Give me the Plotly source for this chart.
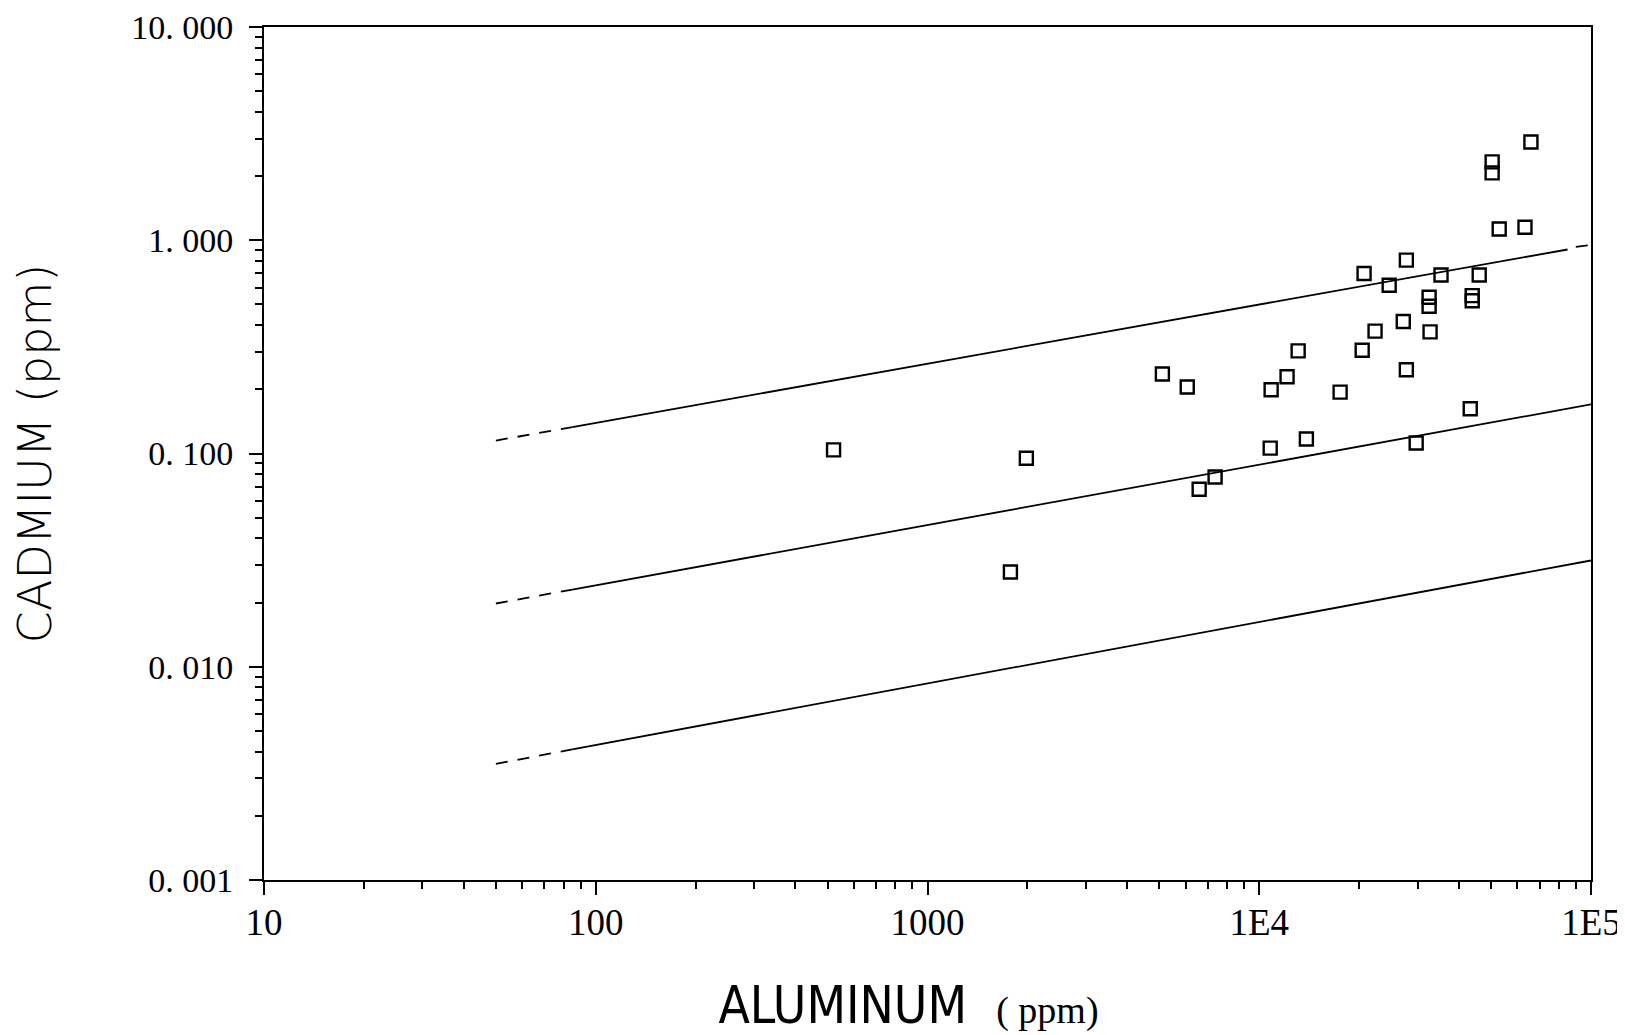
import plotly.graph_objects as go

# ---- data ----
aluminum = [521, 1986, 1778, 5105, 6067, 6590, 7360, 10790, 10860, 12130,
            13100, 13870, 17530, 20430, 20700, 22340, 24640, 27170, 27760, 27760,
            29720, 65900, 50350, 50350, 52880, 63240, 35310, 46030, 32510, 32510,
            43850, 43850, 32730, 43250]
cadmium = [0.104, 0.095, 0.0278, 0.236, 0.205, 0.068, 0.0776, 0.106, 0.199, 0.229,
           0.303, 0.117, 0.194, 0.305, 0.698, 0.375, 0.615, 0.416, 0.807, 0.247,
           0.112, 2.89, 2.33, 2.07, 1.13, 1.15, 0.687, 0.687, 0.54, 0.49,
           0.55, 0.52, 0.372, 0.162]

# regression line and bounds (dashed extrapolated part, solid part)
line_x_dash = [50, 85]
line_x_solid = [85, 100000]
upper_dash = [0.115, 0.133]
upper_x_solid = [85, 85000]
upper_solid = [0.133, 0.905]
upper_x_tail = [90000, 100000]
upper_tail = [0.93, 0.95]
middle_dash = [0.0198, 0.0230]
middle_solid = [0.0230, 0.170]
lower_dash = [0.0035, 0.0041]
lower_solid = [0.0041, 0.0315]

x_tickvals = [10, 100, 1000, 10000, 100000]
x_ticktext = ["10", "100", "1000", "1E4", "1E5"]
y_tickvals = [0.001, 0.01, 0.1, 1, 10]
y_ticktext = ["0. 001", "0. 010", "0. 100", "1. 000", "10. 000"]

x_minor = [m * 10 ** k for k in range(1, 5) for m in range(2, 10)]
y_minor = [m * 10.0 ** k for k in range(-3, 1) for m in range(2, 10)]

fig = go.Figure()

line_style_solid = dict(color="black", width=1.8)
line_style_dash = dict(color="black", width=1.8, dash="12px,10px")

for xd, yd in [(line_x_dash, upper_dash), (line_x_dash, middle_dash), (line_x_dash, lower_dash),
               (upper_x_tail, upper_tail)]:
    fig.add_trace(go.Scatter(x=xd, y=yd, mode="lines", line=line_style_dash,
                             showlegend=False, hoverinfo="skip"))
for xs, ys in [(upper_x_solid, upper_solid), (line_x_solid, middle_solid), (line_x_solid, lower_solid)]:
    fig.add_trace(go.Scatter(x=xs, y=ys, mode="lines", line=line_style_solid,
                             showlegend=False, hoverinfo="skip"))

fig.add_trace(go.Scatter(
    x=aluminum, y=cadmium, mode="markers",
    marker=dict(symbol="square-open", size=13, color="black", line=dict(width=2.4, color="black")),
    showlegend=False,
))

# the page body keeps its default 8px margin, so the figure is 8px smaller than the window
fig.update_layout(
    width=1617, height=1027,
    margin=dict(l=256, r=34, t=19, b=155),
    paper_bgcolor="white", plot_bgcolor="white",
    font=dict(family="Liberation Serif", color="black"),
)

fig.update_xaxes(
    type="log", range=[1, 5], automargin=False,
    tickmode="array", tickvals=x_tickvals, ticktext=x_ticktext,
    tickfont=dict(family="Liberation Serif", size=37, color="black"),
    ticks="outside", ticklen=13, tickwidth=2, tickcolor="black",
    minor=dict(tickmode="array", tickvals=x_minor, ticks="outside", ticklen=7,
               tickwidth=2, tickcolor="black", showgrid=False),
    showgrid=False, zeroline=False,
    showline=True, linecolor="black", linewidth=2, mirror=True,
    ticklabelstandoff=-4, ticklabeloverflow="allow",
    title=dict(
        text="ALUMINUM  <span style='font-family:Liberation Serif;font-size:38px'>( ppm)\u00a0\u00a0\u00a0\u00a0</span>",
        font=dict(family="DejaVu Sans Condensed, Liberation Sans Narrow, Liberation Sans", size=51, color="black"),
        standoff=48,
    ),
)

fig.update_yaxes(
    type="log", range=[-3, 1], automargin=False,
    tickmode="array", tickvals=y_tickvals, ticktext=y_ticktext,
    tickfont=dict(family="Liberation Serif", size=34, color="black"),
    ticks="outside", ticklen=13, tickwidth=2, tickcolor="black",
    minor=dict(tickmode="array", tickvals=y_minor, ticks="outside", ticklen=7,
               tickwidth=2, tickcolor="black", showgrid=False),
    showgrid=False, zeroline=False,
    showline=True, linecolor="black", linewidth=2, mirror=True,
    ticklabelstandoff=9, ticklabeloverflow="allow",
    title=dict(
        text="CADMIUM (ppm)",
        font=dict(family="DejaVu Sans", size=46, color="black", weight=200),
        standoff=74,
    ),
)

fig.write_html("out.html")
